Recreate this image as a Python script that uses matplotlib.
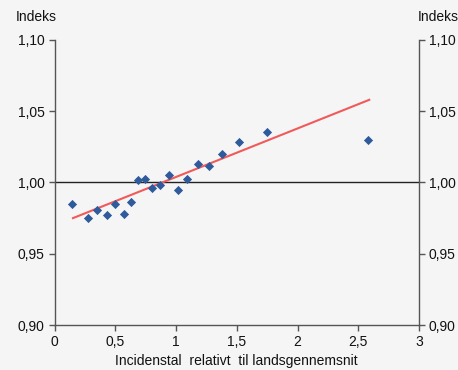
import matplotlib.pyplot as plt
import numpy as np

plt.rcParams['font.family'] = ['Liberation Sans', 'DejaVu Sans']

# Punkter: incidenstal relativt til landsgennemsnit vs. indeks
incidens = [0.147, 0.273, 0.352, 0.43, 0.50, 0.569, 0.627, 0.685, 0.745, 0.805,
            0.871, 0.942, 1.019, 1.09, 1.178, 1.269, 1.379, 1.521, 1.749, 2.583]
indeks = [0.985, 0.975, 0.981, 0.977, 0.985, 0.978, 0.986, 1.0015, 1.0027, 0.996,
          0.998, 1.005, 0.9945, 1.0027, 1.0128, 1.0116, 1.0198, 1.0284, 1.0354, 1.0298]

# Trendlinje (endepunkter)
trend_x = [0.152, 2.59]
trend_y = [0.975, 1.058]

xticks = [0, 0.5, 1, 1.5, 2, 2.5, 3]
xticklabels = ['0', '0,5', '1', '1,5', '2', '2,5', '3']
yticks = [0.90, 0.95, 1.00, 1.05, 1.10]
yticklabels = ['0,90', '0,95', '1,00', '1,05', '1,10']

bg = '#f5f5f5'
fig = plt.figure(figsize=(4.58, 3.70), dpi=100, facecolor=bg)
ax = fig.add_axes([0.119, 0.1216, 0.796, 0.7704], facecolor=bg)

ax.axhline(1.0, color='#222222', linewidth=1.0, zorder=1)
ax.plot(trend_x, trend_y, color='#f05a5a', linewidth=1.5, zorder=2)
ax.scatter(incidens, indeks, marker='D', s=22, color='#2f5a9c', zorder=3,
           linewidths=0)

ax.set_xlim(0, 3)
ax.set_ylim(0.90, 1.10)
ax.set_xticks(xticks)
ax.set_xticklabels(xticklabels, fontsize=10)
ax.set_yticks(yticks)
ax.set_yticklabels(yticklabels, fontsize=10)

for s in ['left', 'right', 'bottom']:
    ax.spines[s].set_color('#555555')
    ax.spines[s].set_linewidth(1.0)
ax.spines['top'].set_visible(False)

ax.tick_params(axis='both', direction='out', length=4, width=1, color='#555555',
               labelcolor='#111111', pad=3)
ax.tick_params(axis='y', labelleft=True, labelright=True, left=True, right=True)

ax.set_xlabel('Incidenstal  relativt  til landsgennemsnit', fontsize=10,
              color='#111111', labelpad=4)

fig.text(0.035, 0.953, 'Indeks', fontsize=10, color='#111111', va='center')
fig.text(0.913, 0.953, 'Indeks', fontsize=10, color='#111111', va='center')

fig.savefig('out.png', dpi=100, facecolor=bg)
